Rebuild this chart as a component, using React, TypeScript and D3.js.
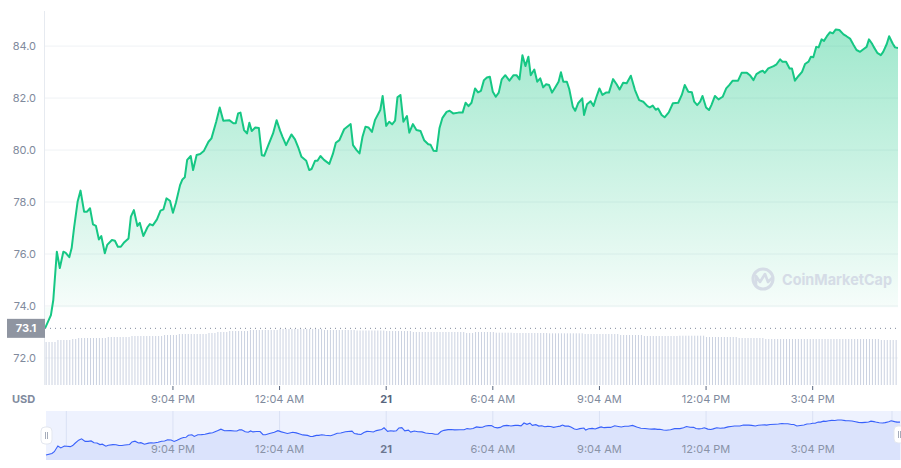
import React, { useEffect, useRef } from 'react';
import * as d3 from 'd3';

const W = 901;
const H = 468;

const startTime = new Date(2023, 0, 20, 17, 28);

// [minutes since start, price in USD]
const pricePoints: [number, number][] = [
  [0, 73.14], [10, 73.65], [14, 74.23], [20, 76.09], [25, 75.46], [31, 76.09], [35, 76.04],
  [41, 75.88], [45, 76.23], [49, 77.0], [55, 78.01], [60, 78.44], [66, 77.63], [71, 77.63],
  [76, 77.76], [81, 77.14], [86, 77.08], [91, 76.56], [95, 76.69], [101, 76.03], [105, 76.35],
  [113, 76.54], [118, 76.51], [123, 76.28], [128, 76.28], [133, 76.43], [141, 76.6], [145, 77.44],
  [150, 77.69], [156, 77.08], [160, 77.2], [166, 76.69], [173, 77.03], [177, 77.15], [182, 77.1],
  [189, 77.33], [195, 77.67], [200, 77.72], [205, 78.14], [211, 78.05], [216, 77.59], [221, 77.97],
  [228, 78.65], [232, 78.87], [236, 78.95], [240, 79.62], [246, 79.77], [250, 79.23], [256, 79.81],
  [262, 79.85], [268, 79.96], [276, 80.32], [281, 80.45], [289, 81.09], [295, 81.64], [301, 81.13],
  [311, 81.15], [318, 81.03], [322, 81.03], [326, 81.41], [330, 81.44], [336, 80.77], [341, 80.64],
  [345, 81.05], [349, 80.73], [355, 80.87], [361, 80.85], [366, 79.8], [370, 79.78], [377, 80.19],
  [385, 80.64], [391, 81.15], [397, 80.74], [401, 80.51], [407, 80.19], [411, 80.38], [416, 80.6],
  [422, 80.41], [428, 80.07], [433, 79.74], [441, 79.59], [446, 79.23], [450, 79.27], [456, 79.59],
  [460, 79.59], [465, 79.77], [471, 79.62], [480, 79.47], [486, 79.85], [491, 80.28], [497, 80.38],
  [505, 80.8], [516, 81.0], [520, 80.19], [526, 80.0], [531, 79.87], [536, 80.51], [541, 80.9],
  [546, 80.87], [552, 80.7], [557, 81.15], [566, 81.54], [570, 82.08], [576, 80.93], [581, 81.09],
  [586, 80.99], [591, 81.13], [595, 82.03], [600, 82.12], [605, 81.09], [611, 81.31], [615, 80.67],
  [621, 81.0], [627, 80.77], [634, 80.73], [640, 80.38], [647, 80.22], [651, 80.2], [656, 79.97],
  [661, 79.96], [666, 80.85], [671, 81.24], [678, 81.47], [683, 81.51], [689, 81.41], [698, 81.44],
  [705, 81.44], [710, 81.82], [715, 81.69], [720, 81.82], [726, 82.37], [731, 82.22], [736, 82.28],
  [741, 82.69], [746, 82.79], [751, 82.82], [756, 82.24], [761, 82.05], [766, 82.21], [771, 82.72],
  [777, 82.88], [784, 82.67], [791, 82.88], [796, 82.88], [801, 82.72], [806, 83.65], [811, 83.23],
  [816, 83.59], [820, 82.88], [826, 83.1], [831, 82.63], [836, 82.76], [841, 82.41], [846, 82.53],
  [851, 82.5], [856, 82.21], [861, 82.4], [867, 82.63], [871, 82.99], [875, 82.63], [881, 82.63],
  [885, 82.35], [891, 81.67], [895, 81.51], [900, 81.8], [907, 81.99], [910, 81.35], [915, 81.76],
  [921, 81.88], [926, 81.7], [931, 82.05], [936, 82.37], [941, 82.12], [947, 82.21], [952, 82.21],
  [959, 82.73], [965, 82.53], [970, 82.33], [976, 82.59], [982, 82.57], [989, 82.86], [996, 82.31],
  [1003, 81.92], [1010, 81.86], [1017, 81.69], [1021, 81.64], [1026, 81.71], [1031, 81.55], [1035, 81.6],
  [1041, 81.35], [1046, 81.26], [1053, 81.45], [1060, 81.8], [1069, 81.82], [1075, 82.12], [1080, 82.5],
  [1086, 82.24], [1092, 82.22], [1096, 81.86], [1101, 81.73], [1106, 81.86], [1110, 82.08], [1116, 81.64],
  [1121, 81.54], [1125, 81.73], [1131, 82.08], [1137, 81.95], [1144, 82.05], [1150, 82.37], [1155, 82.5],
  [1161, 82.67], [1170, 82.67], [1176, 82.97], [1185, 82.97], [1190, 82.88], [1196, 82.69], [1201, 82.92],
  [1207, 83.01], [1212, 83.05], [1215, 82.97], [1221, 83.14], [1230, 83.23], [1235, 83.3], [1241, 83.49],
  [1245, 83.4], [1251, 83.4], [1257, 83.14], [1261, 83.14], [1266, 82.67], [1272, 82.85], [1278, 83.01],
  [1283, 83.31], [1289, 83.4], [1293, 83.59], [1297, 83.57], [1302, 83.97], [1306, 83.95], [1311, 84.26],
  [1315, 84.2], [1320, 84.38], [1325, 84.53], [1330, 84.49], [1335, 84.64], [1341, 84.62], [1348, 84.45],
  [1353, 84.38], [1359, 84.29], [1365, 84.04], [1370, 83.85], [1376, 83.78], [1381, 83.87], [1387, 83.97],
  [1391, 84.26], [1396, 84.1], [1399, 83.97], [1405, 83.74], [1411, 83.65], [1415, 83.78], [1421, 84.08],
  [1425, 84.38], [1431, 84.1], [1435, 83.95], [1440, 83.93],
];

// 24h volume (hundreds of millions), one bar per 5 minutes
const volumes = [
  4.3, 4.3, 4.3, 4.3, 4.5, 4.5, 4.5, 4.5, 4.5, 4.6, 4.6, 4.7, 4.7, 4.7, 4.7, 4.7, 4.7, 4.7, 4.7, 4.7,
  4.7, 4.8, 4.8, 4.8, 4.8, 4.8, 4.8, 4.8, 4.8, 4.9, 4.9, 4.9, 4.9, 4.9, 4.9, 4.9, 4.9, 4.9, 4.9, 4.9,
  5.0, 5.0, 5.0, 5.0, 5.0, 5.1, 5.1, 5.1, 5.1, 5.1, 5.1, 5.1, 5.1, 5.1, 5.1, 5.2, 5.2, 5.2, 5.3, 5.3,
  5.3, 5.3, 5.4, 5.4, 5.4, 5.4, 5.4, 5.4, 5.4, 5.5, 5.5, 5.5, 5.5, 5.5, 5.5, 5.5, 5.5, 5.5, 5.5, 5.6,
  5.6, 5.6, 5.6, 5.6, 5.6, 5.6, 5.6, 5.6, 5.6, 5.6, 5.6, 5.6, 5.6, 5.6, 5.5, 5.5, 5.5, 5.5, 5.5, 5.5,
  5.5, 5.5, 5.5, 5.5, 5.5, 5.45, 5.45, 5.45, 5.45, 5.45, 5.45, 5.45, 5.45, 5.45, 5.45, 5.4, 5.4, 5.4, 5.4,
  5.4, 5.4, 5.4, 5.4, 5.4, 5.3, 5.3, 5.3, 5.3, 5.3, 5.3, 5.3, 5.3, 5.3, 5.3, 5.3, 5.3, 5.3, 5.3, 5.3,
  5.3, 5.3, 5.3, 5.2, 5.2, 5.2, 5.3, 5.3, 5.3, 5.3, 5.3, 5.3, 5.3, 5.23, 5.23, 5.23, 5.23, 5.23, 5.23,
  5.2, 5.2, 5.2, 5.2, 5.2, 5.2, 5.2, 5.2, 5.2, 5.2, 5.2, 5.2, 5.17, 5.17, 5.17, 5.17, 5.17, 5.17, 5.17,
  5.17, 5.17, 5.17, 5.17, 5.17, 5.1, 5.1, 5.1, 5.1, 5.1, 5.1, 5.1, 5.1, 5.1, 5.1, 5.1, 5.1, 5.0, 5.0,
  5.0, 5.0, 5.0, 5.0, 5.0, 5.0, 4.9, 4.9, 4.9, 4.9, 4.9, 4.9, 4.9, 4.9, 4.9, 4.9, 4.9, 4.9, 4.93, 4.93,
  4.93, 4.93, 4.93, 4.93, 4.93, 4.93, 4.93, 4.8, 4.8, 4.8, 4.8, 4.8, 4.8, 4.8, 4.8, 4.8, 4.8, 4.8, 4.7,
  4.7, 4.7, 4.7, 4.7, 4.7, 4.7, 4.7, 4.7, 4.6, 4.6, 4.6, 4.6, 4.6, 4.6, 4.6, 4.6, 4.6, 4.6, 4.6, 4.6,
  4.6, 4.6, 4.6, 4.6, 4.6, 4.6, 4.6, 4.6, 4.6, 4.6, 4.6, 4.6, 4.6, 4.6, 4.6, 4.6, 4.6, 4.6, 4.6, 4.6,
  4.6, 4.6, 4.6, 4.6, 4.6, 4.6, 4.6, 4.5, 4.5, 4.5, 4.5, 4.5, 4.5,
];

const priceTicks = [72, 74, 76, 78, 80, 82, 84];
const timeTickMinutes = [216, 396, 576, 756, 936, 1116, 1296];
const timeTickLabels = ['9:04 PM', '12:04 AM', '21', '6:04 AM', '9:04 AM', '12:04 PM', '3:04 PM'];
const navGridMinutes = [36, 216, 396, 576, 756, 936, 1116, 1296];

const toDate = (m: number) => new Date(startTime.getTime() + m * 60000);

export default function App() {
  const svgRef = useRef<SVGSVGElement>(null);

  useEffect(() => {
    if (!svgRef.current) return;
    const svg = d3.select(svgRef.current);
    svg.selectAll('*').remove();

    const left = 45, right = 898, top = 11, bottom = 385;
    const font = 'Inter, "Noto Sans", sans-serif';
    const axisColor = '#808a9d';

    const x = d3.scaleTime()
      .domain([toDate(0), toDate(1440)])
      .range([left, right]);
    const y = d3.scaleLinear()
      .domain([70.96, 85.35])
      .range([bottom, top]);
    const yVol = d3.scaleLinear()
      .domain([0, 5.6])
      .range([bottom, bottom - 56]);

    const defs = svg.append('defs');
    const grad = defs.append('linearGradient')
      .attr('id', 'priceFill')
      .attr('gradientUnits', 'userSpaceOnUse')
      .attr('x1', 0).attr('x2', 0)
      .attr('y1', y(85)).attr('y2', y(74));
    grad.append('stop').attr('offset', '0%').attr('stop-color', '#16c784').attr('stop-opacity', 0.42);
    grad.append('stop').attr('offset', '100%').attr('stop-color', '#16c784').attr('stop-opacity', 0.04);

    defs.append('clipPath').attr('id', 'plotClip')
      .append('rect').attr('x', left).attr('y', top).attr('width', right - left).attr('height', bottom - top);

    // grid lines
    svg.append('g').selectAll('line')
      .data(priceTicks)
      .join('line')
      .attr('x1', left).attr('x2', right)
      .attr('y1', d => y(d)).attr('y2', d => y(d))
      .attr('stroke', '#eff2f5');

    svg.append('line')
      .attr('x1', left - 0.5).attr('x2', left - 0.5)
      .attr('y1', top).attr('y2', bottom)
      .attr('stroke', '#e6eaf0');

    // volume bars
    const barStep = (right - left) / volumes.length;
    svg.append('g').selectAll('rect')
      .data(volumes)
      .join('rect')
      .attr('x', (d, i) => x(toDate(i * 5)) + barStep * 0.2)
      .attr('y', d => yVol(d))
      .attr('width', 1)
      .attr('height', d => bottom - yVol(d))
      .attr('fill', '#cbd2e1');

    // price area + line
    const plot = svg.append('g').attr('clip-path', 'url(#plotClip)');
    const area = d3.area<[number, number]>()
      .x(d => x(toDate(d[0])))
      .y0(y(73.95))
      .y1(d => y(d[1]));
    plot.append('path')
      .datum(pricePoints)
      .attr('d', area)
      .attr('fill', 'url(#priceFill)');

    const line = d3.line<[number, number]>()
      .x(d => x(toDate(d[0])))
      .y(d => y(d[1]));
    plot.append('path')
      .datum(pricePoints)
      .attr('d', line)
      .attr('fill', 'none')
      .attr('stroke', '#16c784')
      .attr('stroke-width', 2)
      .attr('stroke-linejoin', 'round');

    // watermark
    const wm = svg.append('g').attr('opacity', 0.9);
    wm.append('circle')
      .attr('cx', 763).attr('cy', 279).attr('r', 10)
      .attr('fill', 'none').attr('stroke', '#d3d9e5').attr('stroke-width', 3);
    wm.append('path')
      .attr('d', 'M756,286 L756,276 L760,282 L765,274 L768,282 L772,278')
      .attr('fill', 'none').attr('stroke', '#d3d9e5').attr('stroke-width', 2.6)
      .attr('stroke-linejoin', 'round').attr('stroke-linecap', 'round');
    wm.append('text')
      .attr('x', 782).attr('y', 285)
      .attr('font-family', font).attr('font-size', 15).attr('font-weight', 700)
      .attr('textLength', 110).attr('lengthAdjust', 'spacingAndGlyphs')
      .attr('fill', '#d3d9e5')
      .text('CoinMarketCap');

    // open price marker
    const openPrice = pricePoints[0][1];
    svg.append('line')
      .attr('x1', left).attr('x2', right)
      .attr('y1', y(openPrice)).attr('y2', y(openPrice))
      .attr('stroke', '#808a9d').attr('stroke-width', 1)
      .attr('stroke-dasharray', '1 4');
    svg.append('rect')
      .attr('x', 7).attr('y', y(openPrice) - 9.5)
      .attr('width', left - 7).attr('height', 19)
      .attr('fill', '#8f95a1');
    svg.append('text')
      .attr('x', 26).attr('y', y(openPrice) + 4)
      .attr('text-anchor', 'middle')
      .attr('font-family', font).attr('font-size', 11).attr('font-weight', 700)
      .attr('fill', '#ffffff')
      .text(openPrice.toFixed(1));

    // y axis labels
    svg.append('g').selectAll('text')
      .data(priceTicks)
      .join('text')
      .attr('x', 36).attr('y', d => y(d) + 4)
      .attr('text-anchor', 'end')
      .attr('font-family', font).attr('font-size', 11)
      .attr('fill', axisColor)
      .text(d => d.toFixed(1));

    // x axis
    const xAxis = svg.append('g');
    xAxis.selectAll('line')
      .data(timeTickMinutes)
      .join('line')
      .attr('x1', d => x(toDate(d))).attr('x2', d => x(toDate(d)))
      .attr('y1', bottom + 1).attr('y2', bottom + 5)
      .attr('stroke', '#58667e');
    xAxis.selectAll('text')
      .data(timeTickMinutes)
      .join('text')
      .attr('x', d => x(toDate(d))).attr('y', 403)
      .attr('text-anchor', 'middle')
      .attr('font-family', font).attr('font-size', 11)
      .attr('font-weight', (d, i) => timeTickLabels[i] === '21' ? 700 : 400)
      .attr('fill', (d, i) => timeTickLabels[i] === '21' ? '#58667e' : axisColor)
      .text((d, i) => timeTickLabels[i]);
    svg.append('text')
      .attr('x', 12).attr('y', 403)
      .attr('font-family', font).attr('font-size', 11).attr('font-weight', 700)
      .attr('fill', axisColor)
      .text('USD');

    // navigator
    const navTop = 411, navBottom = 460;
    const nav = svg.append('g');
    nav.append('rect')
      .attr('x', 46).attr('y', navTop)
      .attr('width', W - 46).attr('height', navBottom - navTop)
      .attr('fill', '#eef2fe');
    nav.selectAll('line.grid')
      .data(navGridMinutes)
      .join('line')
      .attr('class', 'grid')
      .attr('x1', d => x(toDate(d))).attr('x2', d => x(toDate(d)))
      .attr('y1', navTop).attr('y2', navBottom)
      .attr('stroke', '#dae1f4');
    nav.append('line')
      .attr('x1', 892).attr('x2', 892)
      .attr('y1', navTop).attr('y2', navBottom)
      .attr('stroke', '#dae1f4');

    const yNav = d3.scaleLinear()
      .domain(d3.extent(pricePoints, d => d[1]) as [number, number])
      .range([455, 420]);
    const xNav = d3.scaleTime()
      .domain([toDate(0), toDate(1440)])
      .range([46, 900]);
    nav.append('path')
      .datum(pricePoints)
      .attr('d', d3.area<[number, number]>()
        .x(d => xNav(toDate(d[0])))
        .y0(navBottom)
        .y1(d => yNav(d[1])))
      .attr('fill', '#dbe3fc');
    nav.append('path')
      .datum(pricePoints)
      .attr('d', d3.line<[number, number]>()
        .x(d => xNav(toDate(d[0])))
        .y(d => yNav(d[1])))
      .attr('fill', 'none')
      .attr('stroke', '#3861fb')
      .attr('stroke-width', 1.1);

    nav.selectAll('text')
      .data(timeTickMinutes)
      .join('text')
      .attr('x', d => x(toDate(d))).attr('y', 453)
      .attr('text-anchor', 'middle')
      .attr('font-family', font).attr('font-size', 11)
      .attr('font-weight', (d, i) => timeTickLabels[i] === '21' ? 700 : 400)
      .attr('fill', (d, i) => timeTickLabels[i] === '21' ? '#6b7690' : '#8a93a8')
      .text((d, i) => timeTickLabels[i]);

    // navigator handles
    [[41, 427], [894, 426]].forEach(([hx, hy]) => {
      const h = nav.append('g');
      h.append('rect')
        .attr('x', hx).attr('y', hy)
        .attr('width', 11).attr('height', 17).attr('rx', 4)
        .attr('fill', '#ffffff')
        .attr('stroke', '#e3e7ef');
      h.append('line')
        .attr('x1', hx + 4.5).attr('x2', hx + 4.5)
        .attr('y1', hy + 5).attr('y2', hy + 12)
        .attr('stroke', '#a6adbb');
      h.append('line')
        .attr('x1', hx + 6.5).attr('x2', hx + 6.5)
        .attr('y1', hy + 5).attr('y2', hy + 12)
        .attr('stroke', '#a6adbb');
    });
  }, []);

  return (
    <div style={{ position: 'fixed', left: 0, top: 0, width: W, height: H, background: '#fff' }}>
      <svg ref={svgRef} width={W} height={H} style={{ display: 'block' }} />
    </div>
  );
}
